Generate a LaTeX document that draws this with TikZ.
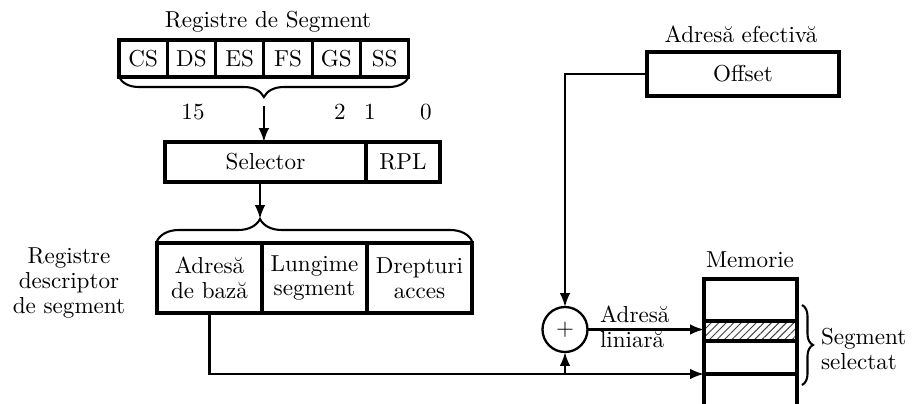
\documentclass[tikz,border=0pt]{standalone}
\usepackage{fontspec}
\usetikzlibrary{arrows.meta,decorations.pathreplacing,patterns.meta,calc}
\def\pxu{0.433pt}
\begin{document}
\begin{tikzpicture}[x=\pxu,y=-\pxu,
  every node/.style={font=\fontsize{10pt}{10.8pt}\selectfont, inner sep=0pt, outer sep=0pt},
  fld/.style={draw, line width=1.35pt},
  reg/.style={fld, minimum width=48.3*\pxu, minimum height=37*\pxu, anchor=west},
  desc/.style={fld, minimum width=105*\pxu, minimum height=70*\pxu, align=center, anchor=west},
  memrow/.style={fld, minimum width=93*\pxu, anchor=north west},
  arr/.style={line width=1pt, -{Latex[length=6pt,width=4.6pt]}},
  brc/.style={line width=0.9pt, decorate},
  bitno/.style={}]
\useasboundingbox (0,0) rectangle (912,403);

% segment registers
\node (rtl) at (268,22) {Registre de Segment};
\node[reg] (cs) at (119,58.5) {CS};
\node[reg] (ds) at (cs.east) {DS};
\node[reg] (es) at (ds.east) {ES};
\node[reg] (fs) at (es.east) {FS};
\node[reg] (gs) at (fs.east) {GS};
\node[reg] (ss) at (gs.east) {SS};
\draw[brc, decoration={brace, mirror, amplitude=20*\pxu}] (cs.south west) -- (ss.south east);
\coordinate (rtip) at ($(cs.south west)!0.5!(ss.south east)+(0,20)$);

% bit numbers of the selector
\node[bitno] (b15) at (193,112) {15};
\node[bitno] (b2) at (340,112) {2};
\node[bitno] (b1) at (370,112) {1};
\node[bitno] (b0) at (426,112) {0};

% selector
\node[fld, minimum width=201*\pxu, minimum height=40*\pxu, anchor=west] (sel) at (165,162) {Selector};
\node[fld, minimum width=74*\pxu, minimum height=40*\pxu, anchor=west] (rpl) at (sel.east) {RPL};
\draw[arr] ($(rtip)+(0,9)$) -- (rtip |- sel.north);

% segment descriptor register
\node[align=center] (rdl) at (69,283) {Registre\\descriptor\\de segment};
\node[desc] (base) at (157,278) {Adresă\\de bază};
\node[desc] (len) at (base.east) {Lungime\\segment};
\node[desc] (acc) at (len.east) {Drepturi\\acces};
\draw[brc, decoration={brace, amplitude=22*\pxu, aspect=0.327}]
  ($(base.north west)+(0,-2)$) -- ($(acc.north east)+(0,-2)$);
\coordinate (dtip) at ($(base.north west)!0.327!(acc.north east)+(0,-24)$);
\draw[arr] (dtip |- sel.south) -- (dtip);

% effective address
\node (efl) at (741,34) {Adresă efectivă};
\node[fld, minimum width=192*\pxu, minimum height=44*\pxu] (off) at (743,74) {Offset};

% adder
\node[draw, circle, line width=1pt, minimum size=45*\pxu] (plus) at (565,329.5) {+};
\draw[arr] (off.west) -| (plus.north);

% memory
\node (meml) at (750,260) {Memorie};
\node[memrow, minimum height=42*\pxu] (mtop) at (704,279) {};
\node[memrow, minimum height=20*\pxu,
  pattern={Lines[angle=45, distance=2.3pt, line width=0.4pt]}, pattern color=black!75] (seg) at (mtop.south west) {};
\node[memrow, minimum height=33*\pxu] (mfree) at (seg.south west) {};
\draw[line width=1.35pt] (mfree.south west) -- ++(0,30) (mfree.south east) -- ++(0,30);
\draw[brc, decoration={brace, amplitude=11*\pxu}] (802,305) -- (802,385);
\node[anchor=west, align=left] (segl) at (821,349) {Segment\\selectat};

% linear address
\draw[arr] (plus.east) -- (plus.east -| seg.west);
\node[anchor=west, align=left] (lin) at (600,327) {Adresă\\liniară};

% base address path
\draw[arr] (base.south) |- (mfree.south west);
\draw[arr] (plus.south |- mfree.south) -- (plus.south);
\end{tikzpicture}
\end{document}
